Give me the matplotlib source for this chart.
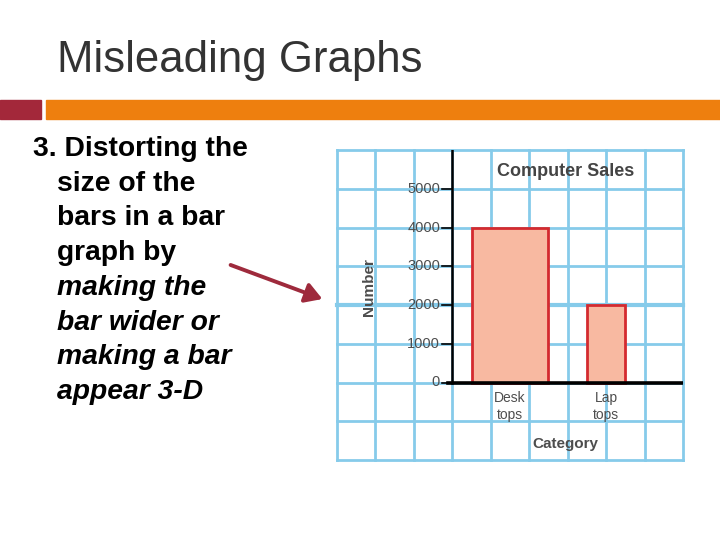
import matplotlib.pyplot as plt
from matplotlib.patches import FancyArrowPatch, Rectangle

# ---------------- data ----------------
categories = ['Desk\ntops', 'Lap\ntops']
sales = [4000, 2000]
bar_centers = [1.5, 4.0]
bar_widths = [2.0, 1.0]
y_ticks = [0, 1000, 2000, 3000, 4000, 5000]

slide_title = 'Misleading Graphs'
body_lines = ['3. Distorting the', 'size of the', 'bars in a bar', 'graph by',
              'making the', 'bar wider or', 'making a bar', 'appear 3-D']
italic_from = 4

# ---------------- fonts / colours ----------------
sans = 'Liberation Sans'
grid_blue = '#86cbea'
bar_fill = '#f8b9a1'
bar_edge = '#d42a2f'
chart_gray = '#4d4d4d'

fig = plt.figure(figsize=(7.2, 5.4), dpi=100)

# slide title
fig.text(57 / 720, 1 - 72 / 540, slide_title, fontsize=31.5, family=sans,
         color='#333333', ha='left', va='baseline')

# header bars
fig.patches.append(Rectangle((0, 1 - 119 / 540), 41 / 720, 19 / 540,
                             transform=fig.transFigure, color='#a3283a'))
fig.patches.append(Rectangle((46 / 720, 1 - 119 / 540), 674 / 720, 19 / 540,
                             transform=fig.transFigure, color='#ee7f0e'))

# body text
for i, line in enumerate(body_lines):
    x = 33 if i == 0 else 57
    y = 156 + i * 34.7
    fig.text(x / 720, 1 - y / 540, line, fontsize=20.3, family=sans,
             weight='bold', style='italic' if i >= italic_from else 'normal',
             color='black', ha='left', va='baseline')

# arrow
fig.patches.append(FancyArrowPatch(
    (228 / 720, 1 - 264 / 540), (325 / 720, 1 - 300 / 540),
    transform=fig.transFigure, arrowstyle='-|>,head_length=10,head_width=6',
    color='#9e2a3c', lw=2.8))

# ---------------- chart ----------------
ax = fig.add_axes([337 / 720, 1 - 460 / 540, 346 / 720, 310 / 540])
ax.set_xlim(-3, 6)
ax.set_ylim(-2000, 6000)
ax.axis('off')

for gx in range(-3, 7):
    ax.axvline(gx, color=grid_blue, lw=2, zorder=0, clip_on=False)
for gy in range(-2000, 6001, 1000):
    ax.axhline(gy, color=grid_blue, lw=3 if gy == 2000 else 2, zorder=0, clip_on=False)

ax.bar(bar_centers, sales, width=bar_widths, color=bar_fill,
       edgecolor=bar_edge, linewidth=2, zorder=2)

# axes lines
ax.plot([0, 0], [0, 6000], color='black', lw=1.8, zorder=3)
ax.plot([-0.1, 6], [0, 0], color='black', lw=2.6, zorder=3)

for v in y_ticks:
    ax.plot([-0.26, 0], [v, v], color='black', lw=1.2, zorder=3)
    ax.text(-0.32, v, str(v), family=sans, fontsize=10.5, color=chart_gray,
            ha='right', va='center')

for c, lab in zip(bar_centers, categories):
    ax.text(c, -620, lab, family=sans, fontsize=10, color=chart_gray,
            ha='center', va='center', linespacing=1.25)

ax.text(2.95, 5440, 'Computer Sales', family=sans, fontsize=13, weight='bold',
        color='#444444', ha='center', va='center')
ax.text(2.95, -1580, 'Category', family=sans, fontsize=11, weight='bold',
        color=chart_gray, ha='center', va='center')
ax.text(-2.18, 2460, 'Number', family=sans, fontsize=11, weight='bold',
        color=chart_gray, ha='center', va='center', rotation=90)

fig.savefig('out.png', dpi=100)
